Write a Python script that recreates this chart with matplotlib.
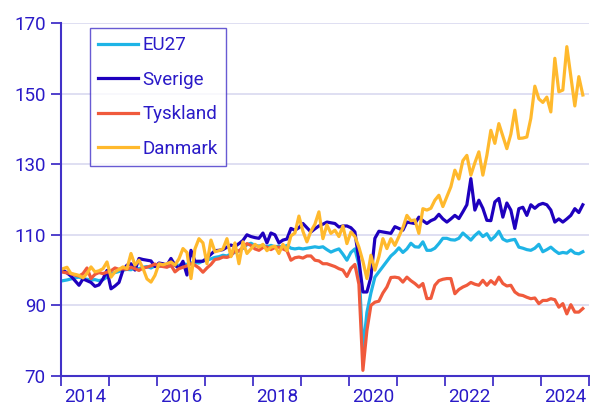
import numpy as np
import matplotlib.pyplot as plt
from matplotlib.ticker import FixedLocator, NullFormatter, FixedFormatter

plt.rcParams['font.family'] = ['Roboto', 'DejaVu Sans']

# Monthly index values, Jan 2014 - Nov 2024
eu27 = [
    97.0, 97.2, 97.5, 97.8, 98.0, 97.6, 97.4, 97.2, 97.3, 97.0, 97.3, 98.0,
    99.0, 99.3, 99.6, 100.0, 100.2, 100.1, 100.6, 100.4, 100.8, 101.0, 100.6, 101.2,
    101.0, 101.4, 101.0, 101.2, 101.6, 101.3, 101.8, 101.6, 102.0, 102.2, 102.0, 102.6,
    102.8, 103.2, 103.6, 103.8, 104.2, 104.0, 104.6, 105.0, 105.4, 106.2, 107.2, 107.6,
    107.0, 106.8, 107.0, 106.6, 107.0, 106.6, 106.8, 106.4, 107.0, 106.2, 106.0, 106.2,
    106.0, 106.2, 106.4, 106.6, 106.4, 106.6, 105.8, 105.1, 105.6, 106.0, 104.5, 102.8,
    105.0, 106.0, 101.5, 77.0, 88.0, 93.5, 98.0, 99.5, 101.0, 102.5, 104.0, 105.0,
    106.3, 105.0, 106.0, 107.6, 106.6, 106.5, 108.0, 105.6, 105.6, 106.2, 107.5, 109.0,
    109.0, 108.6, 108.5, 109.0, 110.5, 109.5, 108.5, 109.8, 110.8, 109.5, 110.3, 108.5,
    109.5, 111.0, 108.8, 108.2, 108.5, 108.7, 106.5, 106.2, 105.8, 105.6, 106.2, 107.3,
    105.2, 105.8, 106.5, 105.5, 104.7, 105.0, 104.8, 105.7, 104.8, 104.6, 105.2,
]
sverige = [
    100.0, 99.2, 98.3, 97.0, 95.7, 97.5, 97.0, 96.5, 95.4, 95.8, 97.5, 99.9,
    94.7, 95.5, 96.5, 100.0, 101.4, 101.8, 100.0, 103.3, 103.0, 102.8, 102.6, 101.0,
    102.0, 101.8, 101.4, 103.3, 101.4, 100.5, 102.5, 98.6, 105.6, 102.5, 102.5, 102.5,
    103.5, 104.5, 105.5, 105.6, 105.8, 106.5, 107.1, 106.7, 107.5, 108.4, 110.0, 109.5,
    109.2, 109.0, 110.5, 107.7, 110.5, 110.0, 107.7, 108.5, 108.8, 111.8, 111.3, 112.0,
    113.2, 112.0, 110.8, 111.7, 112.5, 113.0, 113.6, 113.4, 113.2, 112.2, 112.5, 112.5,
    112.0, 110.8, 102.8, 93.8, 93.8, 98.0, 109.0, 111.0, 110.8, 110.6, 110.4, 112.3,
    111.8, 111.3, 113.6, 113.4, 113.2, 115.0, 114.0, 113.2, 114.0, 114.5, 115.8, 114.5,
    113.6, 114.5, 115.5, 114.6, 116.5, 118.5, 125.9, 117.0, 119.8, 117.5, 114.1, 114.0,
    119.3, 120.3, 115.0, 119.0, 117.0, 111.8, 117.4, 117.8, 115.5, 118.5, 117.5, 118.5,
    118.9, 118.5, 117.0, 113.6, 114.5, 113.6, 114.5, 115.5, 117.4, 116.3, 118.5,
]
tyskland = [
    99.4, 99.2, 99.0, 98.6, 98.3, 99.0, 100.6, 97.6, 98.8, 99.3, 99.0, 99.4,
    99.8, 100.6, 100.2, 100.4, 100.2, 100.8, 100.4, 99.9, 100.6, 100.8, 101.2, 101.7,
    101.2, 101.0, 100.8, 101.4, 99.5, 100.4, 100.8, 101.2, 101.8, 101.4, 100.6, 99.4,
    100.6, 101.6, 103.0, 103.2, 103.7, 103.6, 104.0, 105.6, 105.4, 106.4, 107.5, 107.0,
    106.0, 105.6, 106.4, 106.5, 105.8, 106.4, 106.5, 106.0, 105.5, 102.8, 103.5, 103.7,
    103.4, 104.0, 104.0, 102.8, 102.6, 101.8, 101.8, 101.4, 101.0, 100.4, 100.0, 98.2,
    100.5, 101.6, 96.0, 71.6, 82.9, 90.0, 90.9, 91.2, 93.5, 95.2, 97.9, 98.0,
    97.8, 96.6, 98.0, 97.0, 96.2, 95.2, 96.2, 91.9, 92.0, 95.7, 97.0, 97.4,
    97.6, 97.6, 93.3, 94.5, 95.2, 95.7, 96.5, 96.0, 95.7, 97.1, 95.7, 97.0,
    96.0, 98.0, 96.2, 95.5, 95.7, 93.8, 93.0, 92.8, 92.3, 91.9, 92.1, 90.5,
    91.4, 91.4, 91.9, 91.6, 89.5, 90.5, 87.6, 90.2, 88.1, 88.1, 89.1,
]
danmark = [
    100.4, 100.8, 99.0, 98.8, 98.5, 97.8, 99.0, 100.9, 99.5, 99.8, 100.4, 102.3,
    98.0, 99.5, 100.2, 100.9, 100.4, 104.7, 101.4, 102.8, 100.5, 97.5, 96.6, 98.5,
    101.8, 101.5, 101.8, 102.3, 101.4, 103.2, 106.1, 105.0, 97.6, 106.0, 108.9, 107.7,
    101.8, 108.5, 105.2, 105.5, 106.0, 108.9, 103.8, 107.7, 101.8, 108.0, 104.7, 106.0,
    107.3, 106.5, 107.3, 105.5, 106.5, 106.8, 104.7, 107.3, 105.5, 109.7, 110.5, 115.3,
    111.0, 108.0, 111.0, 113.0, 116.5, 108.9, 112.8, 110.4, 111.3, 109.5, 112.5, 107.5,
    110.8, 109.5, 106.5, 102.5, 97.6, 104.2, 100.0, 103.8, 108.9, 106.1, 108.9, 107.0,
    109.5, 112.0, 115.5, 114.0, 114.2, 110.4, 117.4, 117.0, 117.5, 119.8, 121.2, 118.0,
    120.8, 123.6, 128.3, 125.8, 131.0, 132.5, 126.9, 130.4, 133.5, 126.9, 132.5, 139.6,
    135.9, 141.5, 138.0, 134.4, 138.5, 145.3, 137.3, 137.4, 137.7, 143.0, 152.1, 148.5,
    147.5, 149.0, 144.8, 160.0, 150.5, 151.0, 163.3, 154.8, 146.5, 154.8, 149.6,
]

series = [
    ('EU27', eu27, '#1EB4E6'),
    ('Sverige', sverige, '#1E00BE'),
    ('Tyskland', tyskland, '#F05A3C'),
    ('Danmark', danmark, '#FFB92D'),
]

years = list(range(2014, 2026))
label_years = [2014, 2016, 2018, 2020, 2022, 2024]
y_ticks = [70, 90, 110, 130, 150, 170]

text_col = '#2A1AC8'
axis_col = '#4232C8'
grid_col = '#D9D9F0'

fig = plt.figure(figsize=(5.9, 4.12), dpi=100)
ax = fig.add_axes([0.1034, 0.0874, 0.8946, 0.8568])

for name, vals, col in series:
    x = 2014 + (np.arange(len(vals)) + 0.5) / 12
    ax.plot(x, vals, color=col, lw=2.3, label=name, solid_joinstyle='round')

ax.set_xlim(2014, 2025)
ax.set_ylim(70, 170)

# year ticks without labels, labels centred in the year
ax.xaxis.set_major_locator(FixedLocator(years))
ax.xaxis.set_major_formatter(NullFormatter())
ax.xaxis.set_minor_locator(FixedLocator([y + 0.5 for y in label_years]))
ax.xaxis.set_minor_formatter(FixedFormatter([str(y) for y in label_years]))
ax.tick_params(axis='x', which='major', length=7, width=1.3, color=axis_col)
ax.tick_params(axis='x', which='minor', length=0, pad=9, labelsize=13.5, labelcolor=text_col)

ax.set_yticks(y_ticks)
ax.tick_params(axis='y', length=7, width=1.3, color=axis_col, labelsize=13.5,
               labelcolor=text_col, pad=4)

ax.grid(axis='y', color=grid_col, lw=1.2)
ax.set_axisbelow(True)
for s in ['top', 'right']:
    ax.spines[s].set_visible(False)
for s in ['left', 'bottom']:
    ax.spines[s].set_color(axis_col)
    ax.spines[s].set_linewidth(1.5)

leg = ax.legend(loc='upper left', bbox_to_anchor=(0.055, 0.986), borderaxespad=0,
                fontsize=13.5, frameon=True, fancybox=False, handlelength=2.1,
                handletextpad=0.25, labelspacing=0.88, borderpad=0.45)
leg.get_frame().set_edgecolor(axis_col)
leg.get_frame().set_linewidth(1.0)
for t in leg.get_texts():
    t.set_color(text_col)

fig.savefig('out.png', dpi=100)
